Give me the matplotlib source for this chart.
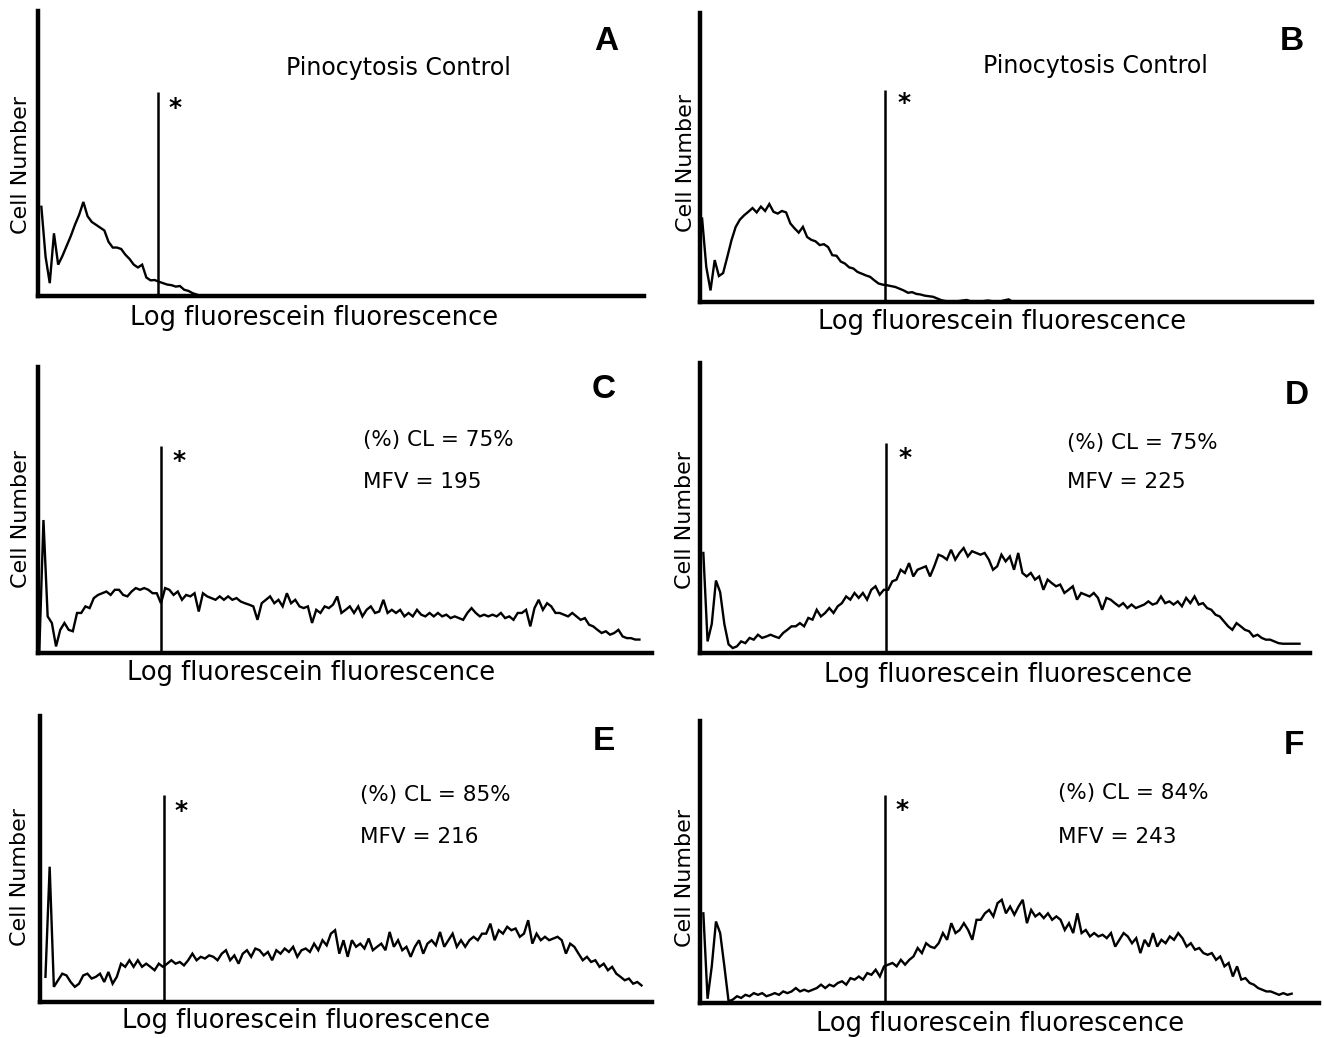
import numpy as np
import matplotlib
matplotlib.use('Agg')
import matplotlib.pyplot as plt

W, H = 1324, 1038

# Histogram counts (percent of axis height), one value per 10-px bin.
A_start = 0.8
A_counts = [31.3, 13.8, 4.5, 22, 11, 14, 17.5, 21, 25, 28.5, 33, 28, 26, 25, 24, 23, 19, 17, 17,
            16.5, 14.5, 13, 11, 10, 11, 6.5, 5.5, 5.6, 5, 4.5, 4, 3.8, 3.3, 3.5, 2.2, 1.8, 1, 0.5, 0]

B_start = 0.5
B_counts = [28.9, 12.1, 4, 14.5, 9, 10, 15.6, 21.4, 26, 28.5, 30, 31.2, 32.5, 31, 33, 31.5, 33.9,
            31.2, 30.6, 31.5, 31, 27.2, 25.5, 24, 26, 22.5, 21.5, 21, 19.7, 20, 19, 16.2, 16, 14,
            13.3, 12, 11.6, 10.4, 9.8, 9.2, 8.7, 7.5, 6.4, 6, 5.8, 5.5, 5.2, 4.6, 4, 3.2, 3.4, 2.8,
            2.6, 2.2, 2, 1.8, 1.2, 0.6, 0.3, 0.2, 0.2, 0.3, 0.5, 0.7, 0.2, 0.1, 0.2, 0.3, 0.5, 0.3,
            0.2, 0.2, 0.6, 0.9, 0]

C_start = 0.3
C_counts = [0, 46.5, 12.8, 10.5, 2.3, 8.1, 10.5, 8.1, 7.6, 14, 14, 16.3, 15.7, 19.2, 20.3, 20.9,
            21.5, 20.3, 22.1, 22.1, 20.3, 19.8, 21.5, 22.7, 22.1, 22.7, 22.1, 20.9, 20.9, 17.4, 22.7,
            22.1, 20.3, 21.5, 18.6, 20.3, 19.8, 20.9, 14.5, 20.9, 19.8, 19.2, 18.6, 19.8, 18.6, 19.8,
            18.6, 19.2, 18, 17.4, 16.9, 16.3, 11.6, 17.4, 18.6, 19.8, 17.4, 18.6, 16.3, 20.9, 17.4,
            18.6, 16.3, 15.7, 16.3, 10.5, 15.1, 14, 16.3, 15.7, 16.9, 19.8, 14, 15.1, 16.3, 14, 16.3,
            12.8, 15.1, 16.3, 14, 14.5, 18.6, 14, 15.1, 14, 15.1, 12.8, 14, 12.8, 15.1, 13.4, 12.8,
            14, 12.8, 14, 12.8, 13.4, 12.2, 12.8, 12.2, 11.6, 14, 15.7, 14, 12.8, 13.4, 12.8, 13.4,
            12.8, 14, 12.2, 12.8, 11.6, 14, 14, 15.1, 9.3, 15.7, 18.6, 15.1, 17.4, 16.3, 14, 14,
            13.4, 12.8, 14, 12.8, 11.6, 12.2, 9.9, 9.3, 8.1, 7, 7.6, 6.4, 7, 8.1, 5.8, 5.2, 5.2,
            4.7, 4.7]

D_start = 0.8
D_counts = [34.5, 4, 10, 25, 21, 10, 3, 1.7, 2.3, 4, 3.4, 5.2, 4.6, 6.3, 5.2, 5.7, 6.3, 5.7, 5.2,
            6.9, 8, 9.2, 9.2, 10.3, 9.2, 12.1, 11.5, 14.9, 12.6, 13.8, 15.5, 13.8, 16.1, 17.2, 19.5,
            18.4, 20.7, 19, 20.7, 18.4, 21.8, 23, 20.1, 21.8, 21.8, 24.7, 25.3, 28.7, 27.6, 31, 26.4,
            28.7, 29.3, 29.9, 26.4, 29.9, 33.9, 33.3, 32.2, 35.6, 32.2, 34.5, 36.2, 33.3, 35.1, 34.5,
            33.9, 34.5, 32.2, 28.7, 29.9, 33.9, 31.6, 33.3, 28.7, 34.5, 27.6, 26.4, 27.6, 25.3, 26.4,
            21.8, 25.3, 24.1, 23, 23.6, 20.7, 21.8, 23, 18.4, 20.7, 20.1, 19.5, 20.7, 19, 14.9, 19,
            18.4, 17.2, 16.1, 17.2, 15.5, 16.7, 15.5, 16.1, 16.7, 17.8, 16.7, 17.2, 19.5, 17.2, 17.8,
            16.7, 17.8, 16.1, 19, 17.2, 19.5, 16.7, 17.2, 15.5, 14.9, 13.2, 12.6, 10.9, 9.2, 8, 10.3,
            9.2, 8, 7.5, 5.7, 6.3, 5.2, 4.6, 4.6, 4, 3.4, 3.2, 3.2, 3.2, 3.2, 3.2]

E_start = 1.3
E_counts = [8.8, 47.3, 5.3, 7.6, 9.9, 9.3, 7, 5.3, 6.4, 9.3, 9.9, 8.2, 8.8, 9.9, 7, 10.5, 6.4, 8.8,
            13.4, 12.3, 14.6, 12.3, 14.6, 12.3, 13.4, 12.3, 11.1, 13.4, 12.3, 13.4, 14.6, 13.4, 14,
            12.8, 14.6, 16.9, 14.6, 15.8, 15.2, 16.3, 15.8, 14.6, 16.9, 18.1, 14.6, 16.3, 13.4, 16.9,
            18.1, 15.8, 18.7, 18.1, 16.3, 17.5, 14.6, 18.1, 16.9, 18.7, 17.5, 19.3, 15.8, 18.1, 18.7,
            17.5, 20.4, 18.1, 21.6, 19.8, 23.9, 25.1, 16.9, 21.6, 15.8, 21.6, 19.3, 20.4, 18.7, 22.2,
            18.1, 19.3, 20.4, 18.1, 24.5, 19.3, 21.6, 18.1, 19.3, 15.8, 19.3, 21.6, 16.9, 20.4, 21.6,
            19.8, 24.5, 19.3, 21.6, 23.9, 19.3, 21.6, 19.3, 21.6, 22.8, 21.6, 23.9, 23.9, 27.4, 21.6,
            25.1, 23.9, 26.3, 25.1, 25.7, 22.8, 23.9, 28.6, 20.4, 23.9, 21.6, 22.8, 21.6, 22.2, 22.8,
            21.6, 16.9, 20.4, 19.3, 16.9, 14.6, 15.8, 14, 14.6, 12.3, 13.4, 11.1, 12.3, 9.9, 8.8,
            7.6, 8.2, 6.4, 7, 5.8]

F_start = 0.8
F_counts = [31.8, 1.5, 13, 28.9, 24.8, 13, 0.6, 1.2, 2.4, 1.8, 2.9, 2.4, 3.5, 2.9, 3.5, 2.4, 2.9,
            3.5, 2.9, 4.1, 3.5, 4.1, 5.3, 4.1, 4.7, 4.1, 4.7, 5.3, 6.5, 5.3, 6.5, 5.9, 7.1, 7.7, 6.5,
            8.8, 8.3, 9.4, 8.3, 10.6, 10, 11.8, 9.4, 13, 13.6, 14.2, 13, 15.3, 13.6, 15.3, 16.5, 19.5,
            17.7, 21.2, 20, 19.5, 21.2, 24.8, 22.4, 28.3, 24.8, 25.9, 28.3, 25.9, 22.4, 29.5, 29.5,
            31.8, 33, 30.7, 35.4, 36.6, 31.8, 34.2, 31.3, 34.2, 36.6, 28.3, 33, 30.7, 31.8, 30.1,
            31.8, 29.5, 30.7, 29.5, 25.9, 28.3, 24.8, 31.8, 24.8, 25.9, 23.6, 24.8, 23.6, 24.2, 23,
            24.8, 20, 22.4, 24.8, 23.6, 21.2, 23, 17.7, 22.4, 20, 24.8, 20, 22.4, 21.2, 23.6, 22.4,
            24.8, 23, 20, 21.2, 18.9, 19.5, 17.7, 17.1, 17.7, 15.3, 16.5, 13, 14.2, 9.4, 13, 8.3,
            8.8, 7.1, 6.5, 5.3, 4.7, 4.1, 4.1, 3.5, 2.9, 3.5, 2.9, 3.3]

# gate channel and height, visible channel range
gates = {'A': (28.6, 71.7), 'B': (44.0, 73.4), 'C': (29.3, 72.3),
         'D': (44.3, 72.4), 'E': (29.6, 72.3), 'F': (44.1, 73.7)}
xmax = {'A': 144.3, 'B': 145.7, 'C': 146.3, 'D': 145.3, 'E': 145.8, 'F': 147.3}

stats = {'C': ('(%) CL = 75%', 'MFV = 195'), 'D': ('(%) CL = 75%', 'MFV = 225'),
         'E': ('(%) CL = 85%', 'MFV = 216'), 'F': ('(%) CL = 84%', 'MFV = 243')}

fig = plt.figure(figsize=(W / 100, H / 100), dpi=100)

# panel boxes in pixels: left, top, right, bottom
boxes = {'A': (38, 11, 644, 296), 'B': (700, 13, 1312, 302),
         'C': (38, 367, 652, 653), 'D': (700, 363, 1310, 653),
         'E': (40, 716, 652, 1002), 'F': (700, 721, 1319, 1003)}
data = {'A': (A_start, A_counts), 'B': (B_start, B_counts), 'C': (C_start, C_counts),
        'D': (D_start, D_counts), 'E': (E_start, E_counts), 'F': (F_start, F_counts)}

for key, (l, t, r, b) in boxes.items():
    ax = fig.add_axes([l / W, 1 - b / H, (r - l) / W, (b - t) / H])
    start, counts = data[key]
    x = start + np.arange(len(counts))
    ax.plot(x, counts, color='black', lw=1.7, solid_joinstyle='miter')
    gx, gtop = gates[key]
    ax.vlines(gx, 0, gtop, color='black', lw=1.8)
    ax.set_xlim(0, xmax[key])
    ax.set_ylim(0, 100)
    for s in ['top', 'right']:
        ax.spines[s].set_visible(False)
    for s in ['left', 'bottom']:
        ax.spines[s].set_linewidth(3.2)
    ax.set_xticks([])
    ax.set_yticks([])
    ax.patch.set_alpha(0)


def ftext(x, y, s, **kw):
    fig.text(x / W, 1 - y / H, s, ha='center', va='center', **kw)


label_font = dict(family='DejaVu Sans', color='black')
letter_font = dict(family='Liberation Sans', weight='bold', fontsize=24, color='black')

# panel letters
for key, (x, y) in {'A': (606, 42), 'B': (1292, 42), 'C': (604, 389), 'D': (1297, 396),
                    'E': (604, 742), 'F': (1294, 745)}.items():
    ftext(x, y, key, **letter_font)

# x labels
for x, y in [(314, 318), (1002, 322), (311, 673), (1008, 675), (306, 1021), (1000, 1024)]:
    ftext(x, y, 'Log fluorescein fluorescence', fontsize=18.5, **label_font)

# y labels
for x, y in [(21, 165), (686, 163), (21, 519), (685, 520), (20, 877), (685, 878)]:
    ftext(x, y, 'Cell Number', fontsize=16, rotation=90, **label_font)

# asterisks
for x, y in [(175, 108), (904, 103), (179, 461), (905, 458), (181, 811), (902, 810)]:
    ftext(x, y, '*', fontsize=18, weight='bold', **label_font)

ftext(398, 68, 'Pinocytosis Control', fontsize=17, **label_font)
ftext(1095, 66, 'Pinocytosis Control', fontsize=17, **label_font)

for key, (x, y1, y2) in {'C': (363, 440, 482), 'D': (1067, 443, 482),
                         'E': (360, 795, 837), 'F': (1058, 793, 837)}.items():
    fig.text(x / W, 1 - y1 / H, stats[key][0], ha='left', va='center', fontsize=15.5, **label_font)
    fig.text(x / W, 1 - y2 / H, stats[key][1], ha='left', va='center', fontsize=15.5, **label_font)

fig.savefig('out.png', dpi=100, facecolor='white')
